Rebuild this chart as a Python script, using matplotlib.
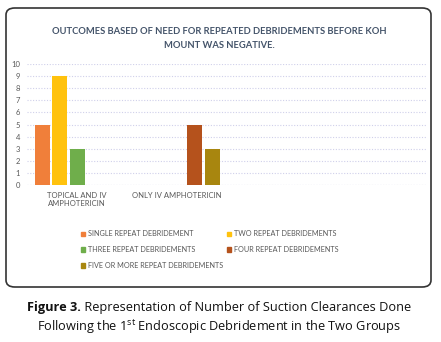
import numpy as np
import matplotlib
matplotlib.use("Agg")
import matplotlib.pyplot as plt
from matplotlib.patches import FancyBboxPatch, Patch

plt.rcParams['mathtext.fontset'] = 'custom'
plt.rcParams['mathtext.rm'] = 'Open Sans'

# data
groups = ["TOPICAL AND IV\nAMPHOTERICIN", "ONLY IV AMPHOTERICIN", "", ""]
series = ["SINGLE REPEAT DEBRIDEMENT", "TWO REPEAT DEBRIDEMENTS",
          "THREE REPEAT DEBRIDEMENTS", "FOUR REPEAT DEBRIDEMENTS",
          "FIVE OR MORE REPEAT DEBRIDEMENTS"]
single = [5, 0, 0, 0]
two = [9, 0, 0, 0]
three = [3, 0, 0, 0]
four = [0, 5, 0, 0]
five_plus = [0, 3, 0, 0]
colors = ["#F07F3A", "#FFC20E", "#6FAE4B", "#B5521C", "#A8860F"]

W, H = 441, 342
fig = plt.figure(figsize=(W / 100, H / 100), dpi=100)

# outer box
box = FancyBboxPatch((6 / W, 1 - 287 / H), 425 / W, 279 / H,
                     boxstyle="round,pad=0,rounding_size=0.02",
                     transform=fig.transFigure, fill=False,
                     edgecolor="#333333", linewidth=1.2)
fig.patches.append(box)

fig.text(219 / W, 1 - 32 / H, "OUTCOMES BASED OF NEED FOR REPEATED DEBRIDEMENTS BEFORE KOH",
         ha="center", va="center", fontsize=6.75, color="#44546A",
         family="Lato", fontweight="bold")
fig.text(219 / W, 1 - 45 / H, "MOUNT WAS NEGATIVE.",
         ha="center", va="center", fontsize=6.75, color="#44546A",
         family="Lato", fontweight="bold")

ax = fig.add_axes([27 / W, 1 - 185 / H, 400 / W, 121 / H])
x = np.arange(len(groups))
vals = [single, two, three, four, five_plus]
bw = 0.15
step = 0.175
for i, v in enumerate(vals):
    ax.bar(x + (i - 2) * step, v, width=bw, color=colors[i], label=series[i])

ax.set_xlim(-0.5, 3.5)
ax.set_ylim(0, 10)
ax.set_yticks(range(0, 11))
ax.set_xticks(x)
ax.set_xticklabels(groups, ha="center")
for s in ax.spines.values():
    s.set_visible(False)
ax.tick_params(length=0, labelsize=5.5, labelcolor="#595959", pad=5)
for lbl in ax.get_xticklabels() + ax.get_yticklabels():
    lbl.set_family("Lato")
ax.set_axisbelow(True)
ax.yaxis.grid(True, color="#D0D0EA", linestyle=(0, (1, 1.5)), linewidth=0.8)
ax.axhline(0, color="#D0D0EA", linestyle=(0, (1, 1.5)), linewidth=0.8, zorder=0)

handles = [Patch(color=c) for c in colors]
order = [0, 2, 4, 1, 3]
fig.legend([handles[i] for i in order], [series[i] for i in order],
           loc="upper left", bbox_to_anchor=(74 / W, 1 - 224 / H), ncol=2,
           frameon=False, labelcolor="#595959",
           handlelength=0.6, handleheight=0.6, handletextpad=0.4,
           columnspacing=0.5, labelspacing=1.2, prop={"family": "Lato", "size": 5.2})

# caption, first line: bold "Figure 3." followed by regular text
renderer = fig.canvas.get_renderer()
cap_kw = dict(fontsize=9.2, family="Open Sans", color="#111111", va="center")
bold = fig.text(0, 1 - 308 / H, "Figure 3.", fontweight="bold", **cap_kw)
rest = fig.text(0, 1 - 308 / H, " Representation of Number of Suction Clearances Done", **cap_kw)
wb = bold.get_window_extent(renderer).width
wr = rest.get_window_extent(renderer).width
x0 = 219 - (wb + wr) / 2
bold.set_x(x0 / W)
rest.set_x((x0 + wb) / W)

fig.text(219 / W, 1 - 327 / H,
         r"Following the 1$^{\mathrm{st}}$ Endoscopic Debridement in the Two Groups",
         ha="center", **cap_kw)

fig.savefig("out.png", dpi=100)
